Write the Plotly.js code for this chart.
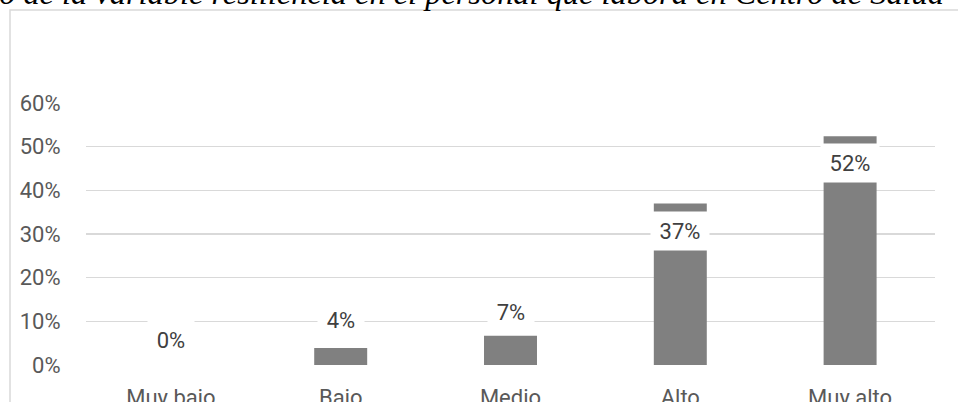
<!DOCTYPE html>
<html>
<head>
<meta charset="utf-8">
<script src="https://cdn.plot.ly/plotly-3.0.1.min.js"></script>
<style>
html,body{margin:0;padding:0;background:#fff;}
#chart{width:958px;height:402px;}
</style>
</head>
<body>
<div id="chart"></div>
<script>
// Data
const categories = ['Muy bajo', 'Bajo', 'Medio', 'Alto', 'Muy alto'];
const values = [0.000, 0.039, 0.067, 0.370, 0.524];
const tickValues = [0, 0.1, 0.2, 0.3, 0.4, 0.5, 0.6];
const tickLabels = ['0%', '10%', '20%', '30%', '40%', '50%', '60%'];
const titleText = 'Resultado de la variable resiliencia en el personal que labora en Centro de Salud';

// Label placement (pixel offsets from bar tops)
const labelShift = [25, 28, 24, -28, -27];

const W = 958, H = 402;
const mL = 86, mR = 23, mT = 103, mB = 37;
const plotW = W - mL - mR, plotH = H - mT - mB;

const labels = values.map(v => Math.round(v * 100) + '%');

const trace = {
  type: 'bar',
  x: categories,
  y: values,
  marker: {color: '#808080'},
  hoverinfo: 'skip'
};

const annotations = categories.map((c, i) => ({
  x: c,
  y: values[i],
  xref: 'x',
  yref: 'y',
  text: labels[i],
  showarrow: false,
  yshift: labelShift[i],
  yanchor: 'middle',
  xanchor: 'center',
  bgcolor: '#ffffff',
  borderpad: 4,
  width: 12 * labels[i].length + 14,
  height: 30,
  font: {family: 'Roboto', size: 22, color: '#404040'}
}));

const layout = {
  width: W,
  height: H,
  margin: {l: mL, r: mR, t: mT, b: mB, pad: 0},
  paper_bgcolor: '#ffffff',
  plot_bgcolor: '#ffffff',
  bargap: 0.688,
  showlegend: false,
  title: {
    text: '<i>' + titleText + '</i>',
    font: {family: 'Liberation Serif', size: 32.4, color: '#000000', style: 'italic'},
    xref: 'container',
    yref: 'container',
    x: 944 / W,
    xanchor: 'right',
    y: 1 - 4 / H,
    yanchor: 'bottom'
  },
  xaxis: {
    type: 'category',
    showline: false,
    showgrid: false,
    zeroline: false,
    ticks: 'outside',
    ticklen: 13,
    tickcolor: 'rgba(0,0,0,0)',
    tickfont: {family: 'Roboto', size: 22, color: '#595959'}
  },
  yaxis: {
    range: [0, 0.6001],
    tickvals: tickValues,
    ticktext: tickLabels,
    showgrid: true,
    gridcolor: '#d9d9d9',
    gridwidth: 1.3,
    zeroline: false,
    showline: false,
    ticks: 'outside',
    ticklen: 20,
    tickcolor: 'rgba(0,0,0,0)',
    tickfont: {family: 'Roboto', size: 22, color: '#595959'}
  },
  annotations: annotations,
  shapes: [{
    type: 'rect',
    xref: 'paper',
    yref: 'paper',
    x0: (10 - mL) / plotW,
    x1: 1.5,
    y0: -0.5,
    y1: (H - mB - 10) / plotH,
    line: {color: '#d9d9d9', width: 1.5},
    fillcolor: 'rgba(0,0,0,0)',
    layer: 'above'
  }]
};

Plotly.newPlot('chart', [trace], layout, {displayModeBar: false, staticPlot: true});
</script>
</body>
</html>
